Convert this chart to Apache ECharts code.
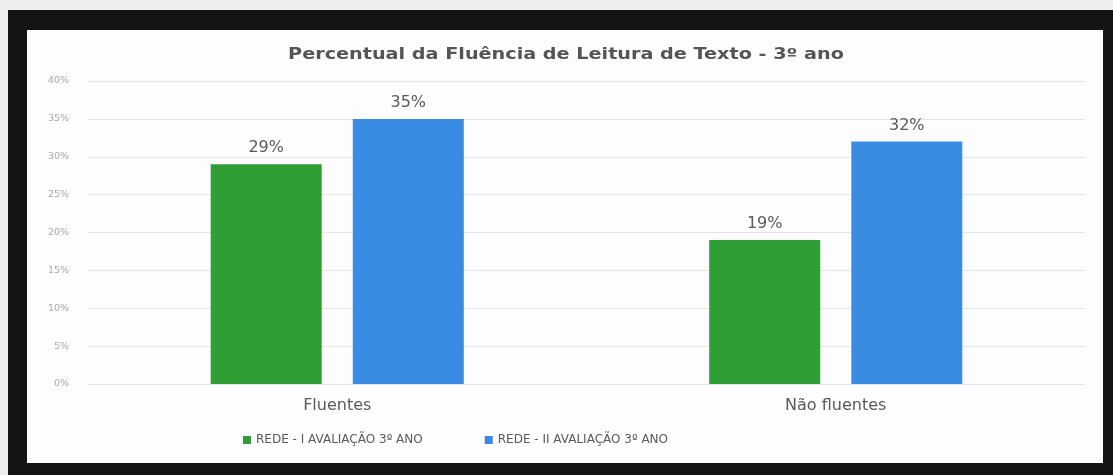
<!DOCTYPE html>
<html>
<head>
<meta charset="utf-8">
<script src="https://cdn.jsdelivr.net/npm/echarts@6/dist/echarts.min.js"></script>
<style>
  html, body { margin: 0; padding: 0; background: #eeeeee; width: 1113px; height: 475px; overflow: hidden; }
  #frame {
    position: absolute; left: 8px; top: 10px; width: 1076px; height: 433px;
    border-style: solid; border-color: #141414;
    border-width: 20px 10px 12px 19px;
    background: #fdfcfe;
  }
  #chart { position: absolute; left: 0; top: 0; width: 1113px; height: 475px; }
</style>
</head>
<body>
<div id="frame"></div>
<div id="chart"></div>
<script>
const titleText = 'Percentual da Fluência de Leitura de Texto - 3º ano';
const categories = ['Fluentes', 'Não fluentes'];
const seriesNames = ['REDE - I AVALIAÇÃO 3º ANO', 'REDE - II AVALIAÇÃO 3º ANO'];
const avaliacao1 = [29, 19];
const avaliacao2 = [35, 32];
const yTicks = { min: 0, max: 40, interval: 5 };

const chart = echarts.init(document.getElementById('chart'), null, { renderer: 'canvas' });

const labelStyle = {
  show: true,
  position: 'top',
  distance: 8,
  formatter: p => p.value + '%',
  fontFamily: 'DejaVu Sans',
  fontSize: 16,
  color: '#5a5a5a'
};

chart.setOption({
  backgroundColor: 'transparent',
  animation: false,
  // wide bold heading, centred over the plot
  graphic: [{
    type: 'text',
    x: 566,
    y: 55,
    scaleX: 1.2,
    style: {
      text: titleText,
      textAlign: 'center',
      textVerticalAlign: 'middle',
      fontFamily: 'DejaVu Sans',
      fontWeight: 'bold',
      fontSize: 16,
      fill: '#555555'
    }
  }],
  legend: {
    data: seriesNames,
    left: 238,
    top: 429,
    icon: 'rect',
    itemWidth: 8,
    itemHeight: 8,
    itemGap: 62,
    textStyle: { fontFamily: 'DejaVu Sans', fontSize: 12, color: '#5a5a5a' }
  },
  grid: { left: 88, right: 28, top: 81, bottom: 91 },
  xAxis: {
    type: 'category',
    data: categories,
    axisLine: { show: false },
    axisTick: { show: false },
    axisLabel: { fontFamily: 'DejaVu Sans', fontSize: 16, color: '#5a5a5a', margin: 14 }
  },
  yAxis: {
    type: 'value',
    min: yTicks.min,
    max: yTicks.max,
    interval: yTicks.interval,
    axisLabel: { formatter: '{value}%', fontFamily: 'DejaVu Sans', fontSize: 9.5, color: '#a8a8a8', margin: 19 },
    splitLine: { lineStyle: { color: '#e4e4e4', width: 1 } }
  },
  series: [
    {
      name: seriesNames[0],
      type: 'bar',
      data: avaliacao1,
      barWidth: 111,
      barGap: '28%',
      itemStyle: { color: '#2f9e35' },
      label: labelStyle
    },
    {
      name: seriesNames[1],
      type: 'bar',
      data: avaliacao2,
      barWidth: 111,
      itemStyle: { color: '#3a8ce2' },
      label: labelStyle
    }
  ]
});
</script>
</body>
</html>
